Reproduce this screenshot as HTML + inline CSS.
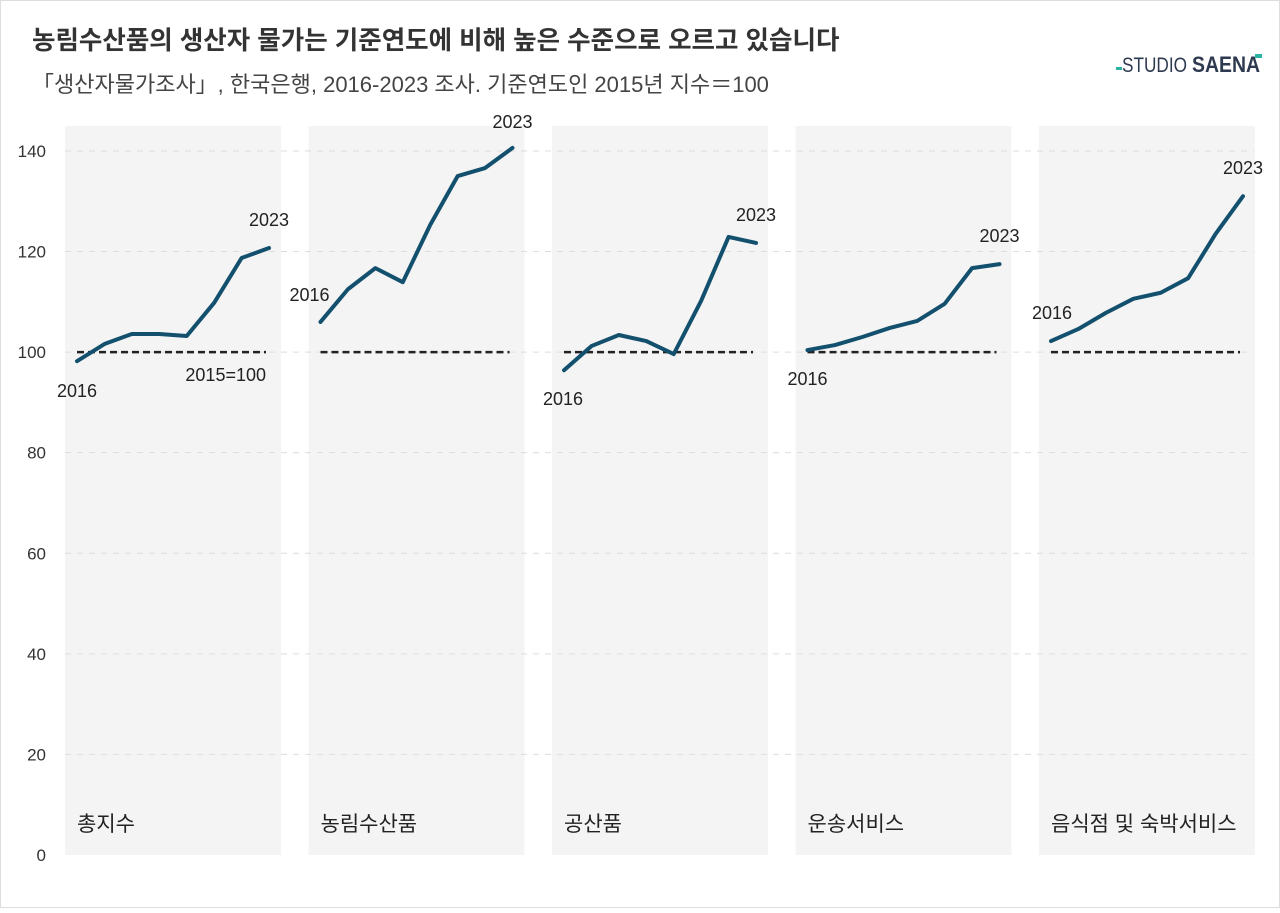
<!DOCTYPE html>
<html><head><meta charset="utf-8"><style>
body{margin:0;background:#fff;}
svg text{font-family:"Liberation Sans","Noto Sans CJK KR",sans-serif;}
</style></head><body>
<svg id="c" width="1280" height="908" xmlns="http://www.w3.org/2000/svg">
<rect x="0.5" y="0.5" width="1279" height="907" fill="#fff" stroke="#ddd"/>
<text x="32" y="49" font-size="25.5" font-weight="bold" fill="#333">농림수산품의 생산자 물가는 기준연도에 비해 높은 수준으로 오르고 있습니다</text>
<text x="32" y="92" font-size="22" fill="#444">「생산자물가조사」, 한국은행, 2016-2023 조사. 기준연도인 2015년 지수＝100</text>
<g>
<rect x="1116" y="67" width="6" height="3" fill="#2ab3a3"/>
<text x="1122" y="72" font-size="21" fill="#2d3a4f" textLength="65" lengthAdjust="spacingAndGlyphs">STUDIO</text>
<text x="1192" y="72" font-size="22" font-weight="bold" fill="#2d3a4f" textLength="68" lengthAdjust="spacingAndGlyphs">SAENA</text>
<rect x="1255" y="54" width="7" height="4" fill="#2ab3a3"/>
</g>
<g id="panels"></g><g id="grid"></g><g id="marks"></g>
</svg>
<script>
const categories=["총지수","농림수산품","공산품","운송서비스","음식점 및 숙박서비스"];
const years=[2016,2017,2018,2019,2020,2021,2022,2023];
const s0=[98.2,101.6,103.6,103.6,103.2,109.8,118.7,120.7];
const s1=[106.0,112.5,116.7,113.9,125.3,135.0,136.6,140.6];
const s2=[96.4,101.2,103.4,102.2,99.6,110.2,122.9,121.7];
const s3=[100.4,101.4,103.0,104.8,106.2,109.6,116.7,117.5];
const s4=[102.2,104.6,107.8,110.6,111.8,114.7,123.5,131.0];
const series=[s0,s1,s2,s3,s4];
const yTicks=[0,20,40,60,80,100,120,140];
const baseline=100;
const NS="http://www.w3.org/2000/svg";
const y=v=>855-v*5.029;
const panelX=i=>65+i*243.5, PW=216;
const x=(i,k)=>panelX(i)+12+k*(PW-24)/(years.length-1);
function mk(t,a,p){const e=document.createElementNS(NS,t);for(const k in a)e.setAttribute(k,a[k]);document.getElementById(p).appendChild(e);return e;}
categories.forEach((c,i)=>{
 const r=mk('rect',{x:panelX(i),y:126,width:PW,height:729,fill:'#f4f4f4'},'panels');
 
 
 const t=mk('text',{x:panelX(i)+12,y:831,'font-size':21,fill:'#222'},'panels');t.textContent=c;
 
 
});
yTicks.forEach(v=>{
 if(v>0){const l=mk('line',{x1:65,x2:1254,y1:y(v),y2:y(v),stroke:'#ddd','stroke-dasharray':'6 6'},'grid');
 
 }
 const t=mk('text',{x:46,y:y(v)+6,'font-size':17,fill:'#333','text-anchor':'end'},'grid');t.textContent=v;
 
 
});
const lab=[[[-20,36],[0,-22]],[[-31,-21],[0,-20]],[[-21,35],[0,-22]],[[-20,35],[0,-22]],[[-19,-22],[0,-22]]];
series.forEach((s,i)=>{
 const b=mk('line',{x1:x(i,0),x2:x(i,7)-3,y1:y(baseline),y2:y(baseline),stroke:'#222','stroke-width':2.5,'stroke-dasharray':'7 4'},'marks');
 
 
 const p=mk('polyline',{points:s.map((v,k)=>x(i,k)+','+y(v)).join(' '),fill:'none',stroke:'#13506e','stroke-width':4,'stroke-linejoin':'round','stroke-linecap':'round'},'marks');
 
 
 const a=mk('text',{x:x(i,0)+lab[i][0][0],y:y(s[0])+lab[i][0][1],'font-size':18,fill:'#222'},'marks');a.textContent=years[0];
 
 
 const e=mk('text',{x:x(i,7),y:y(s[7])+lab[i][1][1],'font-size':18,fill:'#222','text-anchor':'middle'},'marks');e.textContent=years[7];
 
 
});
const bl=mk('text',{x:x(0,7)-3,y:y(baseline)+29,'font-size':18,fill:'#222','text-anchor':'end'},'marks');bl.textContent='2015=100';


</script>
</body></html>
